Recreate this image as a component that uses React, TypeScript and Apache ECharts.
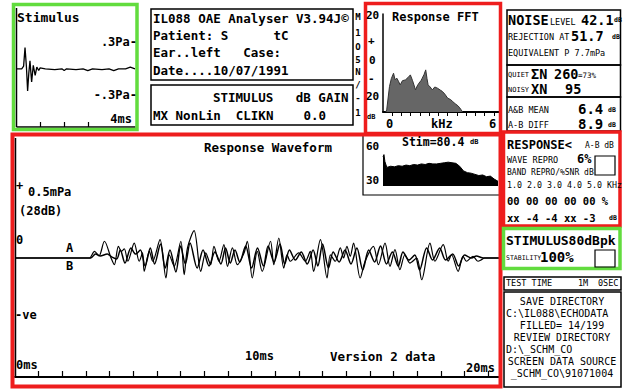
import React, { useEffect, useRef } from 'react';
import * as echarts from 'echarts';

// ---------- DATA ----------
// Stimulus click waveform: [ms, Pa]
const stimulusWave: [number, number][] = [
  [0, 0], [0.2, 0], [0.28, 0.03], [0.34, 0.24], [0.4, 0.02], [0.45, -0.25], [0.5, -0.05],
  [0.55, 0.09], [0.62, -0.15], [0.69, 0.04], [0.77, -0.075], [0.84, 0.02], [0.92, -0.02],
  [0.98, 0.01], [1.2, 0.0], [1.6, -0.01], [1.9, 0.0], [2.0, -0.02], [2.1, 0.0], [2.5, -0.01],
  [2.8, 0.0], [3.0, -0.02], [3.2, 0.0], [3.6, -0.01], [3.9, 0.0], [4.1, -0.02], [4.3, 0.0],
  [4.6, 0.0], [4.8, 0.02], [5.0, 0.0],
];

// Response FFT: [kHz, dB]
const fftSpectrum: [number, number][] = [
  [0.15, -25], [0.2, -24], [0.35, -12.8], [0.45, -9], [0.57, -6.4], [0.65, -9.5], [0.75, -8.8],
  [0.85, -10.5], [0.93, -12], [1.05, -10], [1.21, -9.6], [1.35, -8.5], [1.48, -7.2], [1.6, -10],
  [1.76, -14.4], [1.85, -12.5], [1.94, -11.2], [2.05, -10], [2.12, -8.8], [2.22, -7], [2.31, -4.8],
  [2.38, -9], [2.44, -12], [2.55, -13], [2.67, -14.4], [2.8, -13], [2.95, -13.6], [3.1, -14.5],
  [3.22, -15.2], [3.35, -16.5], [3.5, -18.4], [3.65, -19], [3.77, -20], [3.9, -21], [4.05, -22],
  [4.15, -23], [4.23, -24], [4.3, -25],
];

// Response waveform A: [ms, µPa]
const waveA: [number, number][] = [
  [0, 0], [3.1, 0], [3.15, 0], [3.36, 49], [3.55, 15], [3.78, 123], [4.06, 0], [4.2, -49],
  [4.37, 86], [4.5, 49], [4.62, 68], [4.77, -24], [5.04, 110], [5.25, -24], [5.39, 37],
  [5.46, -98], [5.68, 49], [5.82, -24], [6.13, 135], [6.38, -147], [6.52, 24], [6.73, -61],
  [7.01, 123], [7.15, -123], [7.29, 74], [7.57, 201], [7.85, -98], [8.06, 37], [8.27, -49],
  [8.41, 86], [8.62, -24], [8.83, 98], [8.98, -61], [9.19, 74], [9.4, -49], [9.68, 37],
  [9.82, 123], [10.03, -147], [10.24, 49], [10.45, -98], [10.8, 123], [10.94, -49], [11.15, 147],
  [11.36, -74], [11.5, 24], [11.64, -24], [11.99, 37], [12.27, -24], [12.48, 49], [12.62, -98],
  [12.91, 135], [13.19, -147], [13.33, 24], [13.54, -24], [13.75, 74], [13.89, 0], [14.03, 86],
  [14.17, 12], [14.31, 110], [14.59, -147], [14.8, -24], [15.15, 86], [15.36, -49], [15.64, 110],
  [15.85, -61], [16.06, 61], [16.27, -86], [16.48, 24], [16.69, -37], [16.98, 0], [17.19, -160],
  [17.54, 110], [17.75, -24], [18.1, 98], [18.31, -24], [18.45, 24], [18.73, -98], [18.94, 12],
  [19.08, -24], [19.36, 12], [19.57, -24], [19.72, -12], [19.85, 0], [20.5, 0],
];

// Response waveform B: [ms, µPa]
const waveB: [number, number][] = [
  [0, 0], [3.2, 0], [3.4, 29], [3.6, 15], [3.9, 29], [4.1, 7], [4.3, -7], [4.45, 59], [4.65, -37],
  [4.9, 74], [5.1, 29], [5.3, 59], [5.5, -59], [5.72, 74], [5.9, -44], [6.15, 103], [6.35, -74],
  [6.55, 59], [6.8, -103], [7.0, 88], [7.2, -44], [7.4, 110], [7.7, -74], [7.95, 59], [8.2, -59],
  [8.45, 44], [8.7, -44], [8.9, 74], [9.1, -37], [9.3, 59], [9.5, -29], [9.75, 88], [10.0, -74],
  [10.25, 74], [10.5, -59], [10.7, 88], [10.95, -29], [11.2, 103], [11.4, -44], [11.6, 59],
  [11.85, -15], [12.1, 44], [12.35, -44], [12.6, 59], [12.8, -59], [13.0, 103], [13.25, -74],
  [13.45, 44], [13.7, -29], [13.95, 59], [14.2, -44], [14.45, 74], [14.7, -88], [14.95, 59],
  [15.2, -29], [15.45, 88], [15.7, -44], [15.95, 44], [16.2, -59], [16.4, 44], [16.65, -15],
  [16.9, 22], [17.1, -88], [17.4, 74], [17.65, -15], [17.95, 74], [18.2, -15], [18.5, 29],
  [18.75, -59], [19.0, 22], [19.3, 0], [19.5, 15], [19.8, 0], [20.5, 0],
];

// Stimulus spectrum (inset): [kHz, dB]
const stimSpectrum: [number, number][] = [
  [0, 50], [0.05, 52], [0.1, 46], [0.2, 41], [0.4, 42], [0.6, 41.5], [0.8, 42.5], [1.0, 42],
  [1.2, 43], [1.4, 42.5], [1.6, 43.5], [1.8, 43], [2.0, 44], [2.2, 43.5], [2.4, 44.5], [2.6, 44],
  [2.8, 44], [3.0, 44.5], [3.2, 45], [3.4, 45.5], [3.6, 45], [3.8, 44.5], [4.0, 42], [4.2, 38],
  [4.4, 36.5], [4.6, 36], [4.8, 35], [5.0, 34], [5.2, 34.5], [5.4, 33], [5.6, 33.5], [5.8, 31],
  [6.0, 29],
];

const stimTicks = [1, 2, 3];
const fftTicks = [0.5, 1, 1.5, 2, 2.5, 3, 3.5, 4, 4.5, 5, 5.5, 6];
const waveTicks = [1, 2, 3, 4, 5, 6, 7, 8, 9, 10, 11, 12, 13, 14, 15, 16, 17, 18, 19, 20];
const stimSpecTicks = [1, 2, 3, 4, 5, 6];

const verticalCode = ['M', '1', 'O', '5', 'N', '/', '-', '1'];

// ---------- STYLE ----------
const MONO = '"DejaVu Sans Mono", "Liberation Mono", monospace';
const RED = '#ee1d1d';
const GREEN = '#62dc3e';

function txt(x: number, y: number, text: string, size: number, bold = true, align = 'left') {
  return {
    type: 'text', x, y, z: 60,
    style: {
      text, font: `${bold ? 'bold ' : ''}${size}px ${MONO}`, fill: '#000',
      align, verticalAlign: 'middle',
    },
  };
}
function box(x: number, y: number, w: number, h: number, color: string, lw: number, fill = 'none', z = 50) {
  return { type: 'rect', z, shape: { x, y, width: w, height: h }, style: { fill, stroke: color, lineWidth: lw } };
}
function ln(x1: number, y1: number, x2: number, y2: number, lw = 1.5) {
  return { type: 'line', z: 55, shape: { x1, y1, x2, y2 }, style: { stroke: '#000', lineWidth: lw } };
}

export default function App() {
  const ref = useRef<HTMLDivElement>(null);
  useEffect(() => {
    document.body.style.margin = '0';
    if (!ref.current) return;
    const chart = echarts.init(ref.current, undefined, { renderer: 'svg' });

    const graphics: any[] = [
      // panel frames
      box(13.5, 4.5, 123.5, 125, GREEN, 3.5),
      box(151, 9, 202, 71, '#000', 1.5),
      box(151, 85, 202, 40, '#000', 1.5),
      box(365.5, 3.5, 135, 130, RED, 3.5),
      box(12.5, 134.5, 488, 252, RED, 4),
      box(363, 135, 137, 60, '#000', 1.2, '#fff', 45),
      box(507, 10, 113.5, 55, '#000', 1.5),
      box(507, 65, 113.5, 32, '#000', 1.5),
      box(507, 97, 113.5, 34, '#000', 1.5),
      box(503.5, 132, 116.5, 94, RED, 3.5),
      box(503.5, 228.5, 116.5, 40, GREEN, 3.5),
      box(504, 277, 117, 13, '#000', 1.5),
      box(504, 292, 117, 95, '#000', 1.5),
      box(595, 156, 20, 19, '#000', 1.2),
      box(595, 250, 20, 17, '#000', 1.2),
      ln(16.5, 8, 16.5, 127, 1.5),
      ln(15.5, 138, 15.5, 377, 1.5),

      // stimulus panel
      txt(17, 17, 'Stimulus', 13),
      txt(137, 42, '.3Pa-', 12, true, 'right'),
      txt(137, 95, '-.3Pa-', 12, true, 'right'),
      txt(132, 119, '4ms', 12, true, 'right'),

      // info box
      txt(153, 18, 'IL088 OAE Analyser V3.94J\u00a9', 12.5),
      txt(153, 35, 'Patient: S      tC', 12.5),
      txt(153, 52, 'Ear..left   Case:', 12.5),
      txt(153, 70, 'Date....10/07/1991', 12.5),
      txt(213, 97, 'STIMULUS   dB GAIN', 12.5),
      txt(153, 115, 'MX NonLin  CLIKN    0.0', 12.5),

      // Response FFT panel
      txt(392, 17, 'Response FFT', 12),
      txt(366, 15, '20', 11),
      txt(368, 40, '+', 11),
      txt(369, 60, '0', 11),
      txt(368, 78, '-', 11),
      txt(366, 96, '20', 11),
      txt(367, 117, 'dB', 7),
      txt(386, 124, '0', 12),
      txt(431, 124, 'kHz', 12),
      txt(489, 124, '6', 12),

      // right column
      txt(508, 20, 'NOISE', 13.5),
      txt(550, 22, 'LEVEL', 8.5, false),
      txt(581, 20, '42.1', 13.5),
      txt(614, 20, 'dB', 6.5),
      txt(508, 37, 'REJECTION AT', 8.5, false),
      txt(571, 36, '51.7', 13.5),
      txt(612, 37, 'dB', 6.5),
      txt(508, 53, 'EQUIVALENT P 7.7mPa', 8.5, false),
      txt(508, 75, 'QUIET', 7, false),
      txt(531, 74, '\u03a3N', 13.5),
      txt(554, 74, '260', 13.5),
      txt(578, 75, '=73%', 7.5, false),
      txt(508, 90, 'NOISY', 7, false),
      txt(531, 89, 'XN', 13.5),
      txt(565, 89, '95', 13.5),
      txt(508, 110, 'A&B MEAN', 8.5, false),
      txt(578, 109, '6.4', 14),
      txt(608, 110, 'dB', 6.5),
      txt(508, 125, 'A-B DIFF', 8.5, false),
      txt(578, 124, '8.9', 14),
      txt(608, 125, 'dB', 6.5),

      txt(507, 145, 'RESPONSE<', 12),
      txt(585, 145, 'A-B dB', 8, false),
      txt(507, 160, 'WAVE REPRO', 8.5, false),
      txt(577, 159, '6%', 12),
      txt(507, 172, 'BAND REPRO/%SNR dB', 8, false),
      txt(507, 185, '1.0 2.0 3.0 4.0 5.0 KHz', 8.3, false),
      txt(507, 201, '00 00 00 00 00 %', 10.5),
      txt(507, 218, 'xx -4 -4 xx -3', 10.5),
      txt(609, 218, 'dB', 6.5),

      txt(506, 240, 'STIMULUS80dBpk', 13),
      txt(506, 258, 'STABILITY', 6.5, false),
      txt(540, 257, '100%', 14),

      txt(506, 283, 'TEST TIME', 8.5, false),
      txt(578, 283, '1M', 8.5, false),
      txt(598, 283, '0SEC', 8.5, false),
      txt(562, 301, 'SAVE DIRECTORY', 10, false, 'center'),
      txt(506, 313, 'C:\\IL088\\ECHODATA', 10, false),
      txt(562, 325, 'FILLED= 14/199', 10, false, 'center'),
      txt(562, 337, 'REVIEW DIRECTORY', 10, false, 'center'),
      txt(506, 349, 'D:\\_SCHM_CO', 10, false),
      txt(562, 361, 'SCREEN DATA SOURCE', 10, false, 'center'),
      txt(562, 373, '_SCHM_CO\\91071004', 10, false, 'center'),

      // response waveform panel
      txt(204, 147, 'Response Waveform', 12.5),
      txt(16, 186, '+', 12),
      txt(28, 192, '0.5mPa', 12),
      txt(19, 211, '(28dB)', 12),
      txt(16, 240, '0', 12),
      txt(66, 248, 'A', 12),
      txt(66, 266, 'B', 12),
      txt(15, 315, '-ve', 12),
      txt(16, 365, '0ms', 12),
      txt(245, 356, '10ms', 12),
      txt(330, 356, 'Version 2 data', 12.5),
      txt(466, 368, '20ms', 12),
      txt(402, 142, 'Stim=80.4', 11.5),
      txt(470, 142, 'dB', 7),
      txt(366, 146, '60', 11),
      txt(366, 180, '30', 11),
    ];
    verticalCode.forEach((c, i) => {
      const ys = [17, 33, 47, 60, 72, 85, 98, 113];
      graphics.push(txt(358, ys[i], c, 9, true, 'center'));
    });

    const axisBase = {
      type: 'value',
      splitLine: { show: false },
      axisLabel: { show: false },
    };

    chart.setOption({
      animation: false,
      backgroundColor: '#fff',
      grid: [
        { left: 17, top: 30, width: 118, height: 97 },
        { left: 383, top: 14, width: 116.5, height: 98 },
        { left: 15, top: 190, width: 485, height: 136 },
        { left: 383, top: 143, width: 115, height: 43 },
      ],
      xAxis: [
        { ...axisBase, gridIndex: 0, min: 0, max: 5,
          axisLine: { onZero: false, lineStyle: { color: '#000', width: 1.5 } },
          axisTick: { inside: true, length: 5, customValues: stimTicks, lineStyle: { color: '#000', width: 1.2 } } },
        { ...axisBase, gridIndex: 1, min: 0, max: 6.3,
          axisLine: { onZero: false, lineStyle: { color: '#000', width: 2 } },
          axisTick: { inside: false, length: 4, customValues: fftTicks, lineStyle: { color: '#000', width: 1 } } },
        { ...axisBase, gridIndex: 2, min: 0, max: 20.5, offset: 51,
          axisLine: { onZero: false, lineStyle: { color: '#000', width: 2 } },
          axisTick: { inside: true, length: 6, customValues: waveTicks, lineStyle: { color: '#000', width: 1.2 } } },
        { ...axisBase, gridIndex: 3, min: 0, max: 6,
          axisLine: { onZero: false, lineStyle: { color: '#000', width: 1 } },
          axisTick: { inside: false, length: 6, customValues: stimSpecTicks, lineStyle: { color: '#000', width: 1.2 } } },
      ],
      yAxis: [
        { ...axisBase, gridIndex: 0, min: -0.66, max: 0.44, axisLine: { show: false }, axisTick: { show: false } },
        { ...axisBase, gridIndex: 1, min: -25, max: 22,
          axisLine: { show: true, onZero: false, lineStyle: { color: '#000', width: 1.5 } }, axisTick: { show: false } },
        { ...axisBase, gridIndex: 2, min: -500, max: 500, axisLine: { show: false }, axisTick: { show: false } },
        { ...axisBase, gridIndex: 3, min: 25, max: 62,
          axisLine: { show: true, onZero: false, lineStyle: { color: '#000', width: 1.5 } }, axisTick: { show: false } },
      ],
      series: [
        { type: 'line', xAxisIndex: 0, yAxisIndex: 0, data: stimulusWave, showSymbol: false,
          lineStyle: { color: '#000', width: 1.3 } },
        { type: 'line', xAxisIndex: 1, yAxisIndex: 1, data: fftSpectrum, showSymbol: false,
          lineStyle: { color: '#333', width: 1 }, areaStyle: { color: '#666', opacity: 1, origin: 'start' } },
        { type: 'line', xAxisIndex: 2, yAxisIndex: 2, data: waveA, showSymbol: false, smooth: 0.3,
          lineStyle: { color: '#000', width: 1.2 } },
        { type: 'line', xAxisIndex: 2, yAxisIndex: 2, data: waveB, showSymbol: false, smooth: 0.3,
          lineStyle: { color: '#000', width: 1.5 } },
        { type: 'line', xAxisIndex: 3, yAxisIndex: 3, data: stimSpectrum, showSymbol: false, z: 50,
          lineStyle: { color: '#000', width: 1 }, areaStyle: { color: '#000', opacity: 1, origin: 'start' } },
      ],
      graphic: graphics,
    });
    return () => chart.dispose();
  }, []);
  return <div ref={ref} style={{ position: 'absolute', left: 0, top: 0, width: 625, height: 389, background: '#fff' }} />;
}
